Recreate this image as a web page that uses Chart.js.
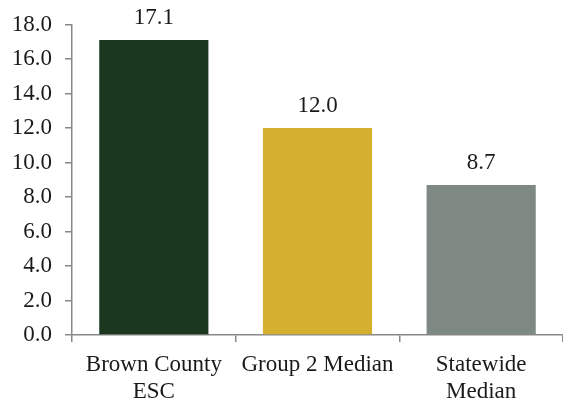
<!DOCTYPE html>
<html>
<head>
<meta charset="utf-8">
<script src="https://cdn.jsdelivr.net/npm/chart.js@4/dist/chart.umd.min.js"></script>
<style>
html,body{margin:0;padding:0;background:#fff;}
#wrap{width:563px;height:405px;}
</style>
</head>
<body>
<div id="wrap"><canvas id="c" width="563" height="405"></canvas></div>
<script>
const categories = [["Brown County","ESC"], "Group 2 Median", ["Statewide","Median"]];
const values = [17.1, 12.0, 8.7];
const barColors = ["#1b371e", "#d5b02e", "#7e8984"];
const yTicks = [0, 2, 4, 6, 8, 10, 12, 14, 16, 18];

const FONT = "'Liberation Serif', 'Times New Roman', serif";

const valueLabels = {
  id: 'valueLabels',
  afterDatasetsDraw(chart) {
    const ctx = chart.ctx;
    const meta = chart.getDatasetMeta(0);
    ctx.save();
    ctx.font = "23px " + FONT;
    ctx.fillStyle = "#1a1a1a";
    ctx.textAlign = "center";
    ctx.textBaseline = "alphabetic";
    meta.data.forEach((bar, i) => {
      ctx.fillText(values[i].toFixed(1), bar.x, bar.y - 16);
    });
    ctx.restore();
  }
};

new Chart(document.getElementById('c'), {
  type: 'bar',
  data: {
    labels: categories,
    datasets: [{
      data: values,
      backgroundColor: barColors,
      borderWidth: 0,
      categoryPercentage: 0.667,
      barPercentage: 1.0
    }]
  },
  options: {
    responsive: false,
    animation: false,
    devicePixelRatio: 1,
    layout: { padding: { top: 24, right: 0, left: 0, bottom: 0 } },
    plugins: { legend: { display: false }, tooltip: { enabled: false } },
    scales: {
      x: {
        grid: { display: true, drawOnChartArea: false, offset: true, color: "#888888", lineWidth: 1.5, tickLength: 7 },
        border: { display: true, color: "#888888", width: 1.5 },
        ticks: { color: "#1a1a1a", font: { family: FONT, size: 23, lineHeight: 1.15 }, padding: 10, maxRotation: 0, autoSkip: false },
        afterFit(scale) { scale.height = 70; }
      },
      y: {
        min: 0, max: 18,
        afterBuildTicks(scale) { scale.ticks = yTicks.map(v => ({ value: v })); },
        grid: { display: true, drawOnChartArea: false, color: "#888888", lineWidth: 1.5, tickLength: 7 },
        border: { display: true, color: "#888888", width: 1.5 },
        ticks: { color: "#1a1a1a", font: { family: FONT, size: 23, lineHeight: 1.0 }, padding: 13, callback: v => Number(v).toFixed(1) },
        afterFit(scale) { scale.width = 72; }
      }
    }
  },
  plugins: [valueLabels]
});
</script>
</body>
</html>
